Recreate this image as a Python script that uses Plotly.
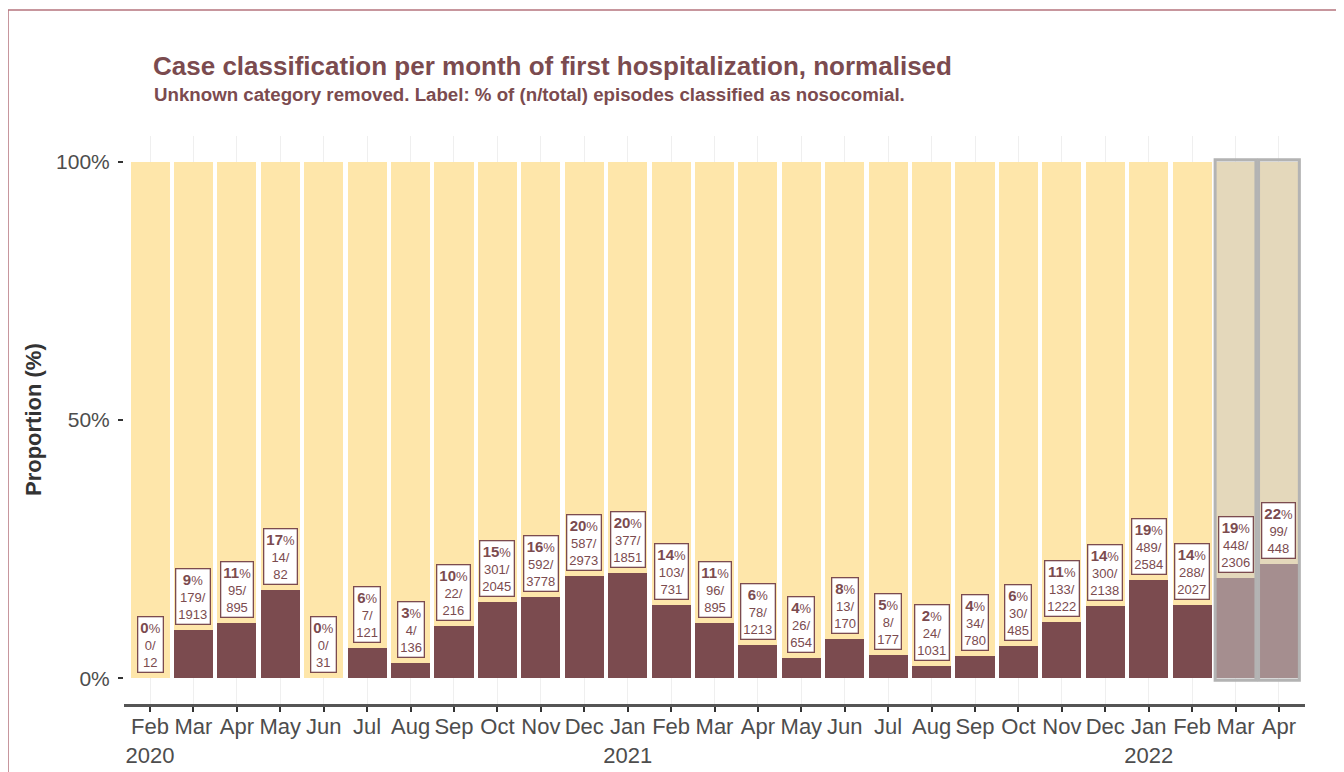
import plotly.graph_objects as go

months = ["Feb", "Mar", "Apr", "May", "Jun", "Jul", "Aug", "Sep", "Oct", "Nov", "Dec",
          "Jan", "Feb", "Mar", "Apr", "May", "Jun", "Jul", "Aug", "Sep", "Oct", "Nov", "Dec",
          "Jan", "Feb", "Mar", "Apr"]
tick_labels = ["Feb<br>2020", "Mar", "Apr", "May", "Jun", "Jul", "Aug", "Sep", "Oct", "Nov", "Dec",
               "Jan<br>2021", "Feb", "Mar", "Apr", "May", "Jun", "Jul", "Aug", "Sep", "Oct", "Nov", "Dec",
               "Jan<br>2022", "Feb", "Mar", "Apr"]
nosocomial_n = [0, 179, 95, 14, 0, 7, 4, 22, 301, 592, 587, 377, 103, 96, 78, 26, 13, 8, 24, 34,
                30, 133, 300, 489, 288, 448, 99]
total_n = [12, 1913, 895, 82, 31, 121, 136, 216, 2045, 3778, 2973, 1851, 731, 895, 1213, 654, 170,
           177, 1031, 780, 485, 1222, 2138, 2584, 2027, 2306, 448]
incomplete = [False] * 25 + [True, True]

DARK = "#7B4B4F"
LIGHT = "#FEE6AA"
FONT = "Liberation Sans, Arial, sans-serif"

x = list(range(len(months)))
prop_noso = [n / t for n, t in zip(nosocomial_n, total_n)]
prop_other = [1 - p for p in prop_noso]

fig = go.Figure()
fig.add_trace(go.Bar(x=x, y=prop_noso, width=0.9, marker=dict(color=DARK, line=dict(width=0)),
                     name="Nosocomial", showlegend=False))
fig.add_trace(go.Bar(x=x, y=prop_other, width=0.9, marker=dict(color=LIGHT, line=dict(width=0)),
                     name="Other", showlegend=False))

# grey overlay for incomplete months
for i, inc in enumerate(incomplete):
    if inc:
        fig.add_shape(type="rect", xref="x", yref="y", x0=i - 0.47, x1=i + 0.47, y0=-0.004, y1=1.004,
                      fillcolor="rgba(203,203,203,0.52)", line=dict(color="#B3B3B3", width=3),
                      layer="above")

# labels
for i, (n, t, p) in enumerate(zip(nosocomial_n, total_n, prop_noso)):
    pct = int(p * 100 + 0.5)
    txt = (f"<span style='font-size:15px'><b>{pct}</b></span>%<br>{n}/<br>{t}")
    fig.add_annotation(x=i, y=p, xref="x", yref="y", text=txt, showarrow=False,
                       yanchor="bottom", yshift=5,
                       font=dict(family=FONT, size=13, color=DARK),
                       bgcolor="white", bordercolor=DARK, borderwidth=1.3, borderpad=2,
                       align="center")

# page offset (body margin of 8 px)
OFF = 8
W, H = 1336, 764
L, R, T, B = 124 - OFF, 39, 136 - OFF, 68
pw, ph = W - L - R, H - T - B

def px_x(px):
    return (px - OFF - L) / pw

def px_y(py):
    return (H - B - (py - OFF)) / ph

fig.add_annotation(xref="paper", yref="paper", x=px_x(151), y=px_y(66), xanchor="left", yanchor="middle",
                   text="<b>Case classification per month of first hospitalization, normalised</b>",
                   showarrow=False, font=dict(family=FONT, size=26, color=DARK))
fig.add_annotation(xref="paper", yref="paper", x=px_x(152), y=px_y(94), xanchor="left", yanchor="middle",
                   text="<b>Unknown category removed. Label: % of (n/total) episodes classified as nosocomial.</b>",
                   showarrow=False, font=dict(family=FONT, size=18.7, color=DARK))
fig.add_annotation(xref="paper", yref="paper", x=px_x(33), y=0.5, xanchor="center", yanchor="middle",
                   text="<b>Proportion (%)</b>", textangle=-90, showarrow=False,
                   font=dict(family=FONT, size=22, color="#333333"))

# frame lines
fig.add_shape(type="line", xref="paper", yref="paper", x0=px_x(8), x1=px_x(1400), y0=px_y(10), y1=px_y(10),
              line=dict(color="#B5737D", width=1.5))
fig.add_shape(type="line", xref="paper", yref="paper", x0=px_x(8), x1=px_x(8), y0=px_y(10), y1=px_y(800),
              line=dict(color="#B5737D", width=1.5))

fig.update_layout(
    width=W, height=H,
    margin=dict(l=L, r=R, t=T, b=B, pad=0),
    barmode="stack",
    plot_bgcolor="white", paper_bgcolor="white",
    font=dict(family=FONT, color="#4D4D4D"),
)
fig.update_xaxes(range=[-0.6, len(months) - 0.4], tickvals=x, ticktext=tick_labels,
                 tickangle=0, automargin=False, ticklabelstandoff=-4,
                 showgrid=True, gridcolor="#EFEFEF", gridwidth=1,
                 showline=True, linecolor="#555555", linewidth=2.5,
                 ticks="outside", ticklen=5, tickwidth=2, tickcolor="#333333",
                 tickfont=dict(size=22, color="#4D4D4D"), zeroline=False)
fig.update_yaxes(range=[-0.05, 1.05], tickvals=[0, 0.5, 1], ticktext=["0%", "50%", "100%"],
                 automargin=False, ticklabelstandoff=4,
                 showgrid=False, zeroline=False, showline=False,
                 ticks="outside", ticklen=5, tickwidth=2, tickcolor="#333333",
                 tickfont=dict(size=21, color="#4D4D4D"))

fig.write_html("out.html")
